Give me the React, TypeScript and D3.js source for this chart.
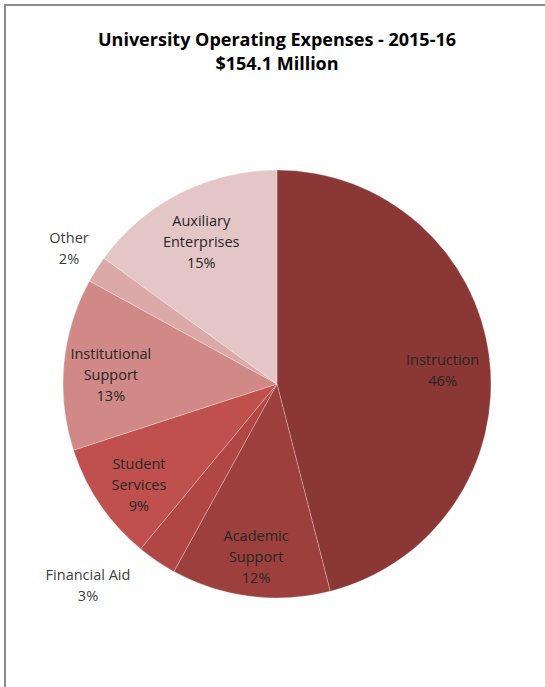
import * as d3 from "d3";
import { useEffect, useRef } from "react";

// data
const categories = [
  "Instruction",
  "Academic Support",
  "Financial Aid",
  "Student Services",
  "Institutional Support",
  "Other",
  "Auxiliary Enterprises",
];
const percents = [46, 12, 3, 9, 13, 2, 15];
const labelLines = [
  ["Instruction"],
  ["Academic", "Support"],
  ["Financial Aid"],
  ["Student", "Services"],
  ["Institutional", "Support"],
  ["Other"],
  ["Auxiliary", "Enterprises"],
];
const colors = ["#8a3735", "#9d403d", "#b14744", "#c0504d", "#d08987", "#daa9a8", "#e4c6c6"];

const titleLines = ["University Operating Expenses - 2015-16", "$154.1 Million"];

const W = 545;
const H = 687;

const App = () => {
  const ref = useRef<SVGSVGElement>(null);

  useEffect(() => {
    const svg = d3.select(ref.current);
    svg.selectAll("*").remove();

    const cx = 277;
    const cy = 384;
    const r = 214;

    // frame
    svg.append("path")
      .attr("d", `M5,${H} L5,5 L${W},5`)
      .attr("fill", "none")
      .attr("stroke", "#8c8c8c")
      .attr("stroke-width", 2);

    // title
    svg.append("text")
      .attr("x", cx)
      .attr("y", 46)
      .attr("text-anchor", "middle")
      .style("font-family", "'Open Sans', sans-serif")
      .style("font-weight", "bold")
      .style("font-size", "18px")
      .attr("fill", "#000")
      .selectAll("tspan")
      .data(titleLines)
      .enter()
      .append("tspan")
      .attr("x", cx)
      .attr("dy", (d, i) => (i === 0 ? 0 : 23.5))
      .text(d => d);

    const data = categories.map((c, i) => ({ name: c, value: percents[i], i }));
    const pie = d3.pie<any>().sort(null).value(d => d.value);
    const arcs = pie(data);
    const arc = d3.arc<any>().innerRadius(0).outerRadius(r);

    const g = svg.append("g").attr("transform", `translate(${cx},${cy})`);
    g.selectAll("path")
      .data(arcs)
      .enter()
      .append("path")
      .attr("d", arc)
      .attr("fill", d => colors[d.index])
      .attr("stroke", "#ffffff")
      .attr("stroke-opacity", 0.35)
      .attr("stroke-width", 0.75);

    // label placement: inside labels on a ring, small slices outside
    const inside = d3.arc<any>().innerRadius(r * 0.78).outerRadius(r * 0.78);
    const outsideShift: Record<string, [number, number]> = {
      "Financial Aid": [-189, 194],
      Other: [-208, -143],
    };

    arcs.forEach(a => {
      const name = a.data.name;
      const lines = [...labelLines[a.index], `${a.data.value}%`];
      let [x, y] = inside.centroid(a);
      const out = outsideShift[name];
      const isOut = !!out;
      if (out) [x, y] = out;
      const lh = 21;
      const t = g.append("text")
        .attr("text-anchor", "middle")
        .style("font-family", "'Open Sans', sans-serif")
        .style("font-size", "14.5px")
        .attr("fill", isOut ? "#404040" : "#262626");
      lines.forEach((l, k) => {
        t.append("tspan")
          .attr("x", x)
          .attr("y", y + (k - (lines.length - 1) / 2) * lh + 12)
          .text(l);
      });
    });
  }, []);

  return (
    <svg
      ref={ref}
      width={W}
      height={H}
      style={{ position: "absolute", left: 0, top: 0, background: "#fff" }}
    />
  );
};

export default App;
